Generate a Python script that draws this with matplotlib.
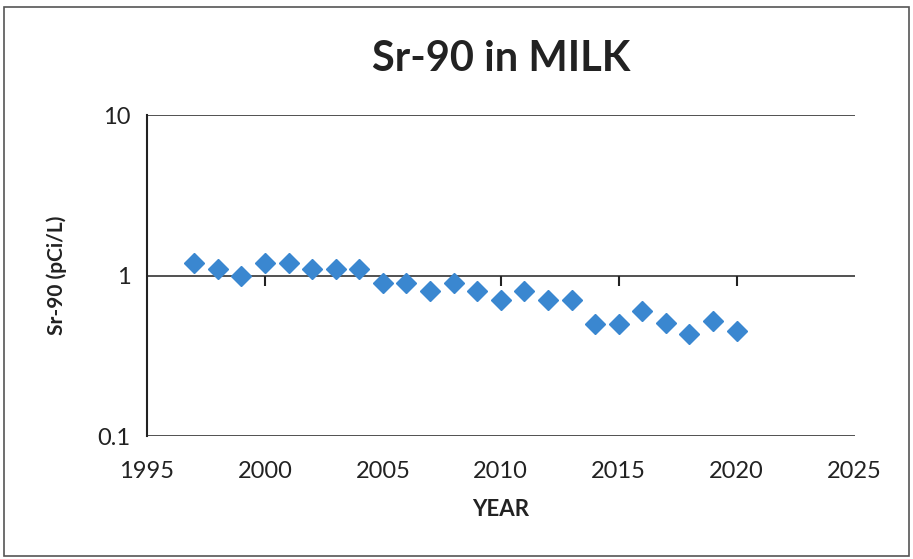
import matplotlib.pyplot as plt
from matplotlib.patches import Rectangle

years = [1997, 1998, 1999, 2000, 2001, 2002, 2003, 2004, 2005, 2006, 2007, 2008,
         2009, 2010, 2011, 2012, 2013, 2014, 2015, 2016, 2017, 2018, 2019, 2020]
sr90 = [1.2, 1.1, 1.0, 1.2, 1.2, 1.1, 1.1, 1.1, 0.9, 0.9, 0.8, 0.9,
        0.8, 0.7, 0.8, 0.7, 0.7, 0.5, 0.5, 0.6, 0.51, 0.435, 0.52, 0.45]
x_ticks = [1995, 2000, 2005, 2010, 2015, 2020, 2025]
y_ticks = [0.1, 1, 10]
y_labels = ['0.1', '1', '10']

plt.rcParams['font.family'] = ['Lato', 'DejaVu Sans']

fig = plt.figure(figsize=(9.13, 5.59), dpi=100)
ax = fig.add_axes([0.161, 0.22, 0.775, 0.574])

# frame around the whole chart
fig.patches.append(Rectangle((0.004, 0.006), 0.992, 0.982, transform=fig.transFigure,
                             fill=False, edgecolor='#555555', linewidth=1.2))

ax.plot(years, sr90, linestyle='none', marker='D', markersize=10,
        color='#3A87D0', markeredgecolor='#3A87D0')

ax.set_yscale('log')
ax.set_ylim(0.1, 10)
ax.set_xlim(1995, 2025)
ax.set_yticks(y_ticks)
ax.set_yticklabels(y_labels)
ax.minorticks_off()
ax.set_xticks(x_ticks)

for y in y_ticks:
    ax.axhline(y, color='#333333', linewidth=1.2, zorder=0)

for s in ['top', 'right', 'bottom']:
    ax.spines[s].set_visible(False)
ax.spines['left'].set_color('#222222')
ax.spines['left'].set_linewidth(1.5)

ax.tick_params(axis='x', length=0, labelsize=17, pad=18, colors='#222222')
ax.tick_params(axis='y', length=0, labelsize=17, pad=12, colors='#222222')

# x axis ticks sit on the y=1 line, pointing down
sec = ax.secondary_xaxis(0.5)
sec.set_xticks(x_ticks[1:-1])
sec.tick_params(axis='x', direction='in', length=7, width=1.5, labelbottom=False,
                labeltop=False, color='#222222')
sec.spines['bottom'].set_visible(False)
sec.spines['top'].set_visible(False)

ax.set_title('Sr-90 in MILK', fontsize=30, fontweight='bold', pad=32, color='#222222')
ax.set_xlabel('YEAR', fontsize=16, fontweight='bold', labelpad=12, color='#222222')
ax.set_ylabel('Sr-90 (pCi/L)', fontsize=15, fontweight='bold', labelpad=22, color='#222222')

fig.savefig('out.png', dpi=100)
